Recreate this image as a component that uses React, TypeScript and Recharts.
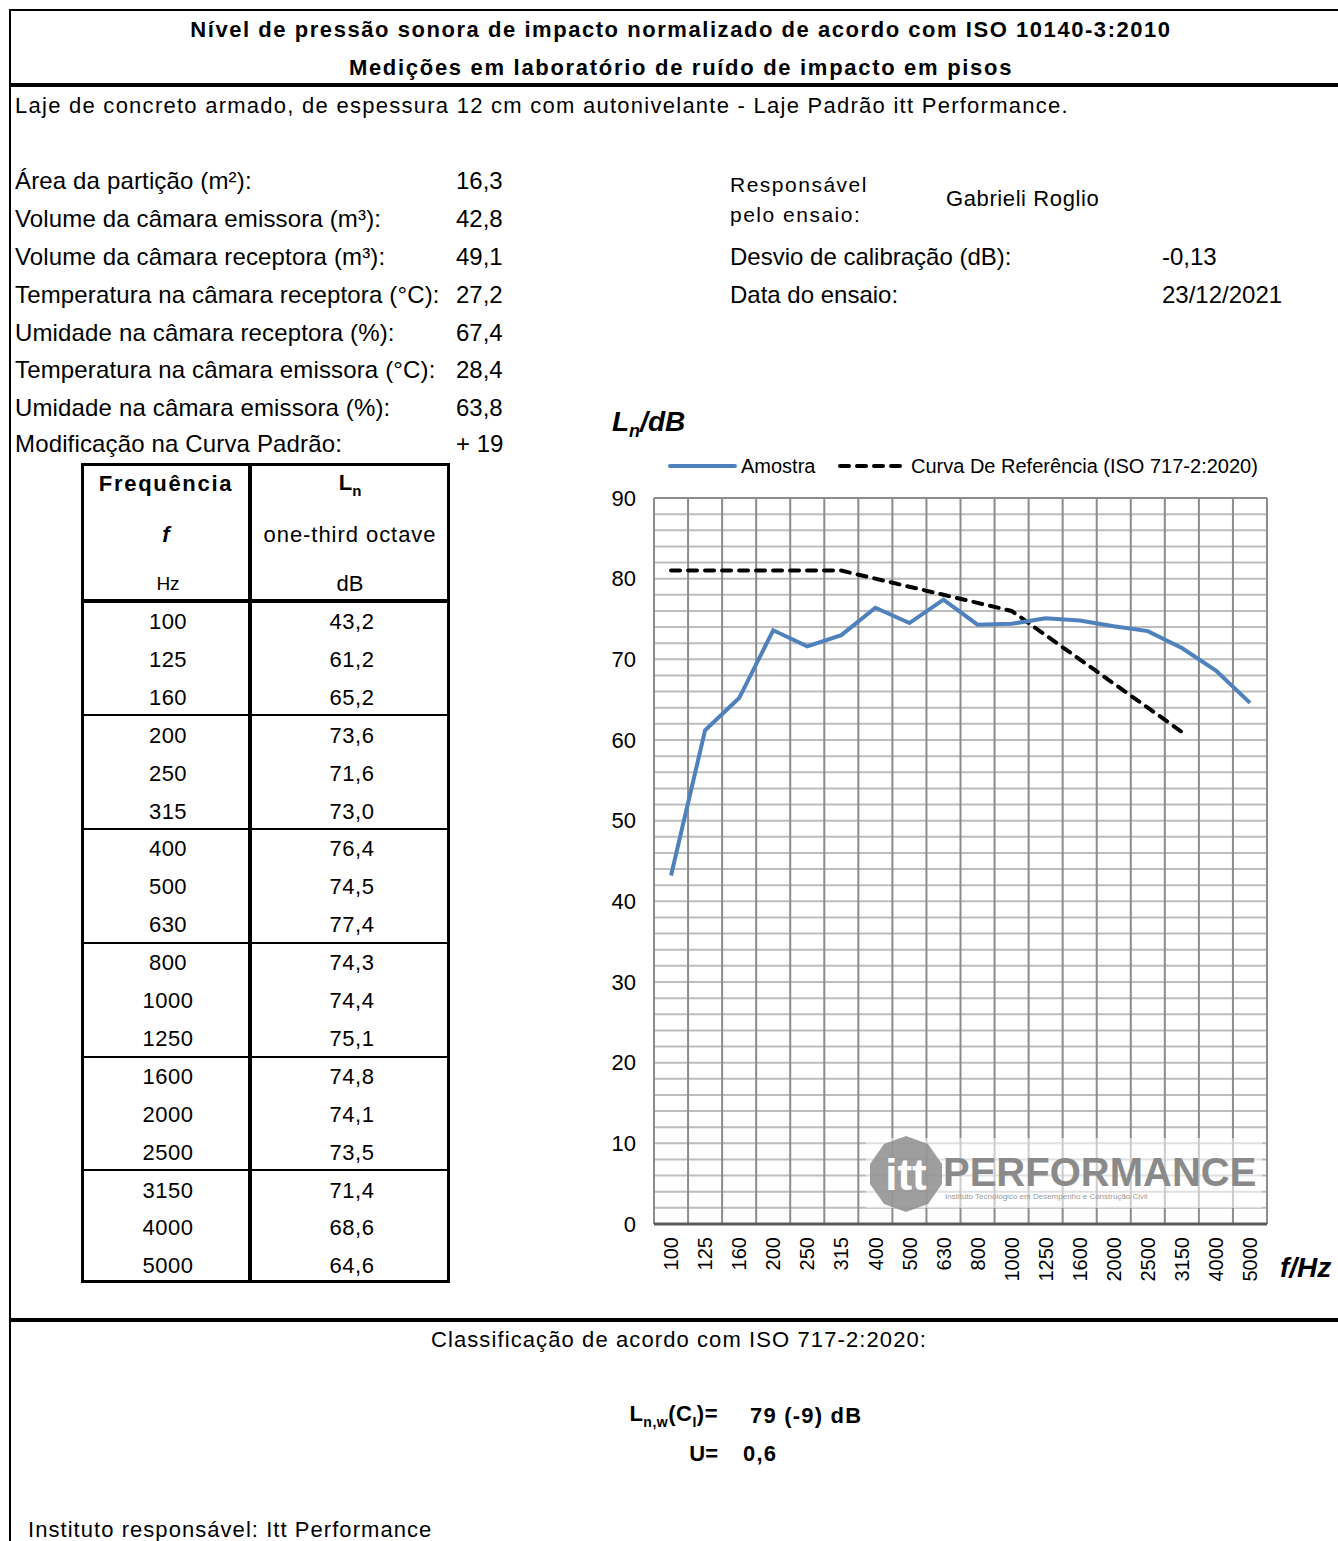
import React from "react";
import { LineChart, Line, XAxis, YAxis, CartesianGrid, ReferenceLine } from "recharts";

const FREQS = ["100","125","160","200","250","315","400","500","630","800","1000","1250","1600","2000","2500","3150","4000","5000"];
const AMOSTRA = [43.2,61.2,65.2,73.6,71.6,73.0,76.4,74.5,77.4,74.3,74.4,75.1,74.8,74.1,73.5,71.4,68.6,64.6];
const AMOSTRA_LABELS = ["43,2","61,2","65,2","73,6","71,6","73,0","76,4","74,5","77,4","74,3","74,4","75,1","74,8","74,1","73,5","71,4","68,6","64,6"];
const REFERENCIA = [81,81,81,81,81,81,80,79,78,77,76,73,70,67,64,61,null,null];
const Y_GRID = [0,2,4,6,8,10,12,14,16,18,20,22,24,26,28,30,32,34,36,38,40,42,44,46,48,50,52,54,56,58,60,62,64,66,68,70,72,74,76,78,80,82,84,86,88,90];
const X_GRID = [0,1,2,3,4,5,6,7,8,9,10,11,12,13,14,15,16,17,18];

const INFO_LEFT = [
  ["Área da partição (m²):", "16,3"],
  ["Volume da câmara emissora (m³):", "42,8"],
  ["Volume da câmara receptora (m³):", "49,1"],
  ["Temperatura na câmara receptora (°C):", "27,2"],
  ["Umidade na câmara receptora (%):", "67,4"],
  ["Temperatura na câmara emissora (°C):", "28,4"],
  ["Umidade na câmara emissora (%):", "63,8"],
  ["Modificação na Curva Padrão:", "+ 19"],
];
const INFO_LEFT_Y = [181, 219, 257, 295, 333, 370, 408, 444];

const data = FREQS.map((f, i) => ({ pos: i + 0.5, f, amostra: AMOSTRA[i], ref: REFERENCIA[i] }));

const FONT = '"Liberation Sans", Arial, Helvetica, sans-serif';

type TP = { x: number; y: number; size?: number; bold?: boolean; italic?: boolean; anchor?: "start" | "middle" | "end"; ls?: number; children: React.ReactNode };
const Txt = ({ x, y, size = 22, bold, italic, anchor = "start", ls = 0, children }: TP) => {
  const tx = anchor === "middle" ? "-50%" : anchor === "end" ? "-100%" : "0";
  return (
    <div style={{ position: "absolute", left: x, top: y, transform: `translate(${tx}, -50%)`, fontFamily: FONT, fontSize: size, fontWeight: bold ? 700 : 400, fontStyle: italic ? "italic" : "normal", letterSpacing: ls, lineHeight: 1, whiteSpace: "nowrap", color: "#000" }}>
      {children}
    </div>
  );
};

const Rect = ({ x, y, w, h, c = "#000" }: { x: number; y: number; w: number; h: number; c?: string }) => (
  <div style={{ position: "absolute", left: x, top: y, width: w, height: h, background: c }} />
);

const RotTick = (props: any) => {
  const { x, y, payload } = props;
  const label = FREQS[Math.floor(payload.value)];
  const yy = y + 5;
  return (
    <text x={x} y={yy} transform={`rotate(-90 ${x} ${yy})`} textAnchor="end" dy="0.36em" fontFamily={FONT} fontSize={20} fill="#000">
      {label}
    </text>
  );
};

const CHART_L = 590, CHART_T = 480, CHART_W = 700, CHART_H = 820;

export default function App() {
  const rowY = (i: number) => 622 + i * 37.9;
  return (
    <div style={{ position: "absolute", left: 0, top: 0, width: 1338, height: 1541, background: "#fff", overflow: "hidden" }}>
      {/* frame lines */}
      <Rect x={9} y={9} w={1329} h={2} />
      <Rect x={9} y={9} w={2} h={1532} />
      <Rect x={9} y={83} w={1329} h={4} />
      <Rect x={9} y={1318} w={1329} h={4} />

      <Txt x={681} y={30} size={22} bold ls={1.55} anchor="middle">Nível de pressão sonora de impacto normalizado de acordo com ISO 10140-3:2010</Txt>
      <Txt x={681} y={68} size={22} bold ls={1.7} anchor="middle">Medições em laboratório de ruído de impacto em pisos</Txt>
      <Txt x={15} y={106} size={22} ls={1.26}>Laje de concreto armado, de espessura 12 cm com autonivelante - Laje Padrão itt Performance.</Txt>

      {INFO_LEFT.map(([k, v], i) => (
        <React.Fragment key={k}>
          <Txt x={15} y={INFO_LEFT_Y[i]} size={24} ls={0.15}>{k}</Txt>
          <Txt x={456} y={INFO_LEFT_Y[i]} size={24}>{v}</Txt>
        </React.Fragment>
      ))}

      <Txt x={730} y={184} size={21} ls={1.5}>Responsável</Txt>
      <Txt x={730} y={214} size={21} ls={1.5}>pelo ensaio:</Txt>
      <Txt x={946} y={199} size={22} ls={0.6}>Gabrieli Roglio</Txt>
      <Txt x={730} y={257} size={24}>Desvio de calibração (dB):</Txt>
      <Txt x={1162} y={257} size={24}>-0,13</Txt>
      <Txt x={730} y={295} size={24}>Data do ensaio:</Txt>
      <Txt x={1162} y={295} size={24}>23/12/2021</Txt>

      {/* table */}
      <div style={{ position: "absolute", left: 81, top: 463, width: 369, height: 820, border: "3px solid #000", boxSizing: "border-box" }} />
      <Rect x={248} y={463} w={4} h={820} />
      <Rect x={81} y={599} w={369} h={4} />
      {[715, 829, 943, 1057, 1170].map((yy) => (
        <Rect key={yy} x={81} y={yy - 1} w={369} h={2} />
      ))}
      <Txt x={166} y={484} size={22} bold ls={1.7} anchor="middle">Frequência</Txt>
      <Txt x={166} y={535} size={22} bold italic anchor="middle">f</Txt>
      <Txt x={168} y={583} size={19} anchor="middle">Hz</Txt>
      <Txt x={350} y={485} size={22} bold anchor="middle">L<sub style={{ fontSize: 15 }}>n</sub></Txt>
      <Txt x={350} y={535} size={22} ls={0.95} anchor="middle">one-third octave</Txt>
      <Txt x={350} y={584} size={22} anchor="middle">dB</Txt>
      {FREQS.map((f, i) => (
        <React.Fragment key={f}>
          <Txt x={168} y={rowY(i)} size={22} ls={0.5} anchor="middle">{f}</Txt>
          <Txt x={352} y={rowY(i)} size={22} ls={0.5} anchor="middle">{AMOSTRA_LABELS[i]}</Txt>
        </React.Fragment>
      ))}

      {/* chart title and legend */}
      <Txt x={612} y={424} size={28} bold italic>L<sub style={{ fontSize: 18 }}>n</sub>/dB</Txt>
      <svg style={{ position: "absolute", left: 660, top: 455 }} width={260} height={24}>
        <line x1={10} y1={11} x2={75} y2={11} stroke="#4f81bd" strokeWidth={4} strokeLinecap="round" />
        <line x1={180} y1={11} x2={245} y2={11} stroke="#000" strokeWidth={4} strokeDasharray="9 8" strokeLinecap="round" />
      </svg>
      <Txt x={741} y={466} size={20}>Amostra</Txt>
      <Txt x={911} y={466} size={20}>Curva De Referência (ISO 717-2:2020)</Txt>

      <div style={{ position: "absolute", left: CHART_L, top: CHART_T }}>
        <LineChart width={CHART_W} height={CHART_H} data={data} margin={{ top: 18, right: 23, bottom: 16, left: 14 }}>
          <XAxis xAxisId="grid" type="number" dataKey="pos" domain={[0, 18]} ticks={X_GRID} hide />
          <XAxis type="number" dataKey="pos" domain={[0, 18]} ticks={data.map((d) => d.pos)} tick={<RotTick />} tickLine={false} axisLine={{ stroke: "#5a5a5a", strokeWidth: 3 }} height={60} interval={0} />
          <YAxis type="number" domain={[0, 90]} ticks={Y_GRID} interval={0} width={50} tickLine={false} axisLine={false} tick={{ fontFamily: FONT, fontSize: 22, fill: "#000" }} tickFormatter={(v: number) => (v % 10 === 0 ? String(v) : "")} tickMargin={12} />
          <CartesianGrid vertical={false} stroke="#bdbdbd" strokeWidth={2} />
          <CartesianGrid xAxisId="grid" horizontal={false} stroke="#8c8c8c" strokeWidth={2} />
          <ReferenceLine y={90} stroke="#8c8c8c" strokeWidth={2} />
          <Line type="linear" dataKey="ref" stroke="#000" strokeWidth={4} strokeDasharray="9 8" strokeLinecap="round" dot={false} isAnimationActive={false} connectNulls={false} />
          <Line type="linear" dataKey="amostra" stroke="#4f81bd" strokeWidth={4} dot={false} isAnimationActive={false} />
        </LineChart>
      </div>
      <Txt x={1280} y={1268} size={28} bold italic>f/Hz</Txt>

      {/* watermark */}
      <div style={{ position: "absolute", left: 866, top: 1138, width: 396, height: 70, background: "rgba(255,255,255,0.55)" }} />
      <svg style={{ position: "absolute", left: 866, top: 1134 }} width={80} height={80}>
        <polygon points="40,2 62,10 76,30 76,50 62,70 40,78 18,70 4,50 4,30 18,10" fill="#8d8d8d" opacity={0.85} />
        <text x={40} y={56} textAnchor="middle" fontFamily={FONT} fontWeight={700} fontSize={44} fill="#fff">itt</text>
      </svg>
      <Txt x={943} y={1172} size={40} bold>
        <span style={{ color: "#8a8a8a" }}>PERFORMANCE</span>
      </Txt>
      <Txt x={945} y={1197} size={8}>
        <span style={{ color: "#999" }}>Instituto Tecnológico em Desempenho e Construção Civil</span>
      </Txt>

      {/* bottom */}
      <Txt x={679} y={1340} size={22} ls={1.1} anchor="middle">Classificação de acordo com ISO 717-2:2020:</Txt>
      <Txt x={718} y={1416} size={22} bold anchor="end" ls={0.5}>L<sub style={{ fontSize: 14 }}>n,w</sub>(C<sub style={{ fontSize: 14 }}>I</sub>)=</Txt>
      <Txt x={750} y={1416} size={22} bold ls={1.2}>79 (-9) dB</Txt>
      <Txt x={718} y={1454} size={22} bold anchor="end">U=</Txt>
      <Txt x={743} y={1454} size={22} bold ls={1.2}>0,6</Txt>
      <Txt x={28} y={1530} size={22} ls={1.05}>Instituto responsável: Itt Performance</Txt>
    </div>
  );
}
